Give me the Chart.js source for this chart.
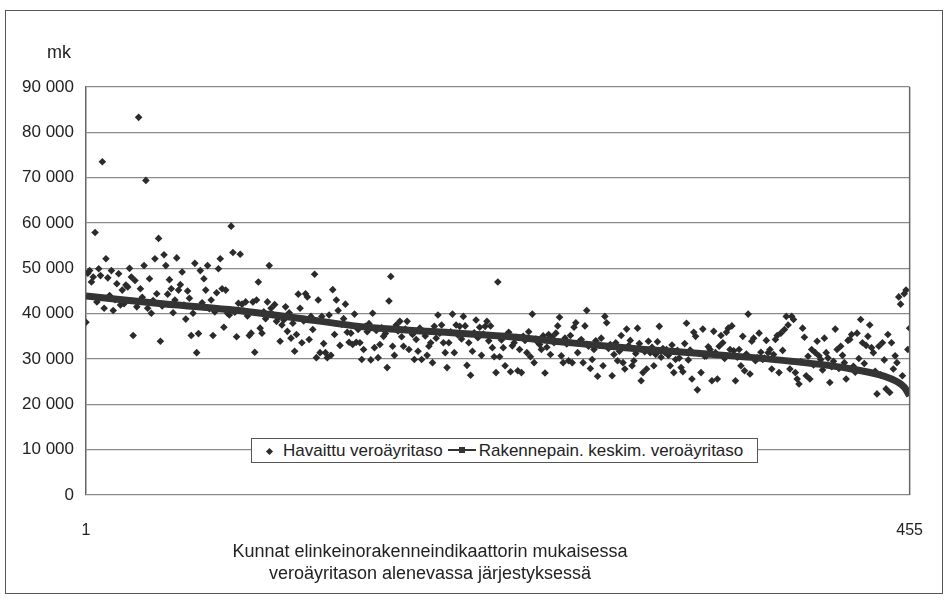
<!DOCTYPE html>
<html lang="fi">
<head>
<meta charset="UTF-8">
<title>Havaittu veroäyritaso</title>
<script src="https://cdn.jsdelivr.net/npm/chart.js"></script>
<style>
    html, body { margin: 0; padding: 0; background: #fff; }
    body { font-family: "Liberation Sans", Arial, sans-serif; color: #222; }
    #wrap { position: relative; width: 949px; height: 606px; }
    #frame { position: absolute; left: 5px; top: 10px; width: 936px; height: 582px; border: 1.5px solid #555; }
    #mk { position: absolute; left: 47px; top: 42px; font-size: 18px; line-height: 20px; }
    #xtitle { position: absolute; left: 130px; width: 600px; top: 540px; text-align: center; font-size: 18px; line-height: 22px; }
    #legend { position: absolute; left: 251px; top: 438px; width: 505px; height: 23px; border: 1px solid #555; background: #fff;
              font-size: 17px; line-height: 23px; white-space: nowrap; }
    .dia { display: inline-block; width: 5px; height: 5px; background: #2b2b2b; transform: rotate(45deg); margin: 0 11px 2px 15px; }
    .viiva { display: inline-block; position: relative; width: 28px; height: 2px; background: #333; margin: 0 3px 5px 5px; }
    .viiva i { position: absolute; left: 11px; top: -2px; width: 6px; height: 6px; background: #333; }
    canvas { position: absolute; left: 0; top: 0; }
</style>
</head>
<body>
<div id="wrap">
    <canvas id="kuvio" width="949" height="606"></canvas>
    <div id="frame"></div>
    <div id="mk">mk</div>
    <div id="legend"><span class="dia"></span>Havaittu veroäyritaso<span class="viiva"><i></i></span>Rakennepain. keskim. veroäyritaso</div>
    <div id="xtitle">Kunnat elinkeinorakenneindikaattorin mukaisessa<br>veroäyritason alenevassa järjestyksessä</div>
</div>

<script>
    // havaittu veroäyritaso, 1000 mk per kunta (järjestysnumero 1..455)
    var havaittu = [
        38.1, 48.9, 49.5, 47.0, 48.1, 57.9, 42.6, 49.9, 48.4, 73.5, 41.2, 52.1, 47.9, 44.0, 49.5, 40.7, 43.1, 46.6, 48.8, 41.9,
        45.2, 42.2, 46.3, 45.9, 50.0, 48.1, 35.2, 47.3, 41.5, 83.3, 45.5, 43.6, 50.6, 69.4, 41.2, 47.7, 40.1, 42.9, 52.1, 44.4,
        56.6, 33.9, 41.7, 53.0, 50.6, 44.3, 47.5, 45.5, 40.2, 43.0, 52.3, 45.2, 46.4, 49.2, 41.9, 38.8, 45.0, 43.4, 35.2, 40.1,
        51.1, 31.4, 35.6, 49.5, 42.4, 47.7, 45.2, 50.6, 41.1, 43.0, 35.2, 40.4, 44.6, 49.9, 52.1, 45.5, 37.0, 45.2, 40.1, 39.7,
        59.3, 53.5, 40.3, 34.9, 42.3, 53.1, 42.1, 40.6, 42.6, 39.5, 35.2, 35.7, 42.6, 31.5, 43.0, 47.0, 36.8, 35.7, 40.4, 38.9,
        42.6, 50.6, 41.2, 39.8, 42.0, 38.3, 39.1, 33.9, 37.5, 38.6, 41.5, 36.1, 40.2, 34.6, 37.9, 31.7, 35.4, 44.3, 41.2, 33.6,
        38.4, 44.4, 43.7, 34.3, 39.4, 36.5, 48.7, 30.3, 43.0, 31.4, 39.4, 33.4, 31.4, 30.3, 39.7, 30.8, 45.3, 35.4, 43.0, 40.7,
        33.0, 37.6, 38.9, 42.1, 35.9, 33.7, 35.7, 33.2, 39.9, 33.7, 36.5, 33.6, 29.9, 32.1, 37.2, 36.0, 37.8, 29.8, 40.1, 32.5,
        36.3, 30.3, 33.2, 36.9, 35.0, 35.6, 28.1, 42.8, 48.2, 32.8, 30.8, 37.5, 36.2, 38.3, 34.9, 32.8, 36.6, 38.3, 32.1, 36.1,
        35.4, 29.9, 34.3, 31.7, 36.8, 29.9, 36.1, 35.1, 30.8, 32.8, 33.6, 29.2, 37.2, 34.6, 39.7, 35.7, 37.5, 33.6, 31.4, 28.1,
        33.6, 36.0, 39.9, 31.4, 37.5, 35.3, 37.2, 34.4, 39.4, 37.3, 28.6, 33.6, 26.4, 31.7, 35.8, 38.6, 34.7, 37.0, 30.8, 35.5,
        37.2, 38.3, 34.0, 37.3, 32.5, 30.5, 27.0, 47.0, 30.5, 34.2, 32.5, 28.5, 35.4, 35.9, 27.2, 32.9, 33.6, 34.8, 27.4, 32.1,
        27.0, 35.0, 34.1, 31.4, 36.0, 30.5, 39.9, 29.2, 34.4, 33.7, 33.2, 32.1, 35.1, 26.9, 32.6, 35.4, 31.0, 34.9, 33.6, 35.7,
        37.3, 39.2, 30.7, 29.2, 34.6, 33.3, 29.6, 35.2, 29.2, 37.0, 38.0, 31.4, 33.9, 34.3, 29.2, 37.3, 40.7, 32.8, 27.9, 29.9,
        32.1, 34.0, 26.2, 33.1, 34.6, 28.5, 39.4, 38.0, 32.3, 33.2, 26.3, 31.0, 33.6, 29.6, 31.7, 35.2, 29.2, 27.8, 36.6, 32.9,
        34.1, 28.5, 29.6, 31.2, 36.8, 33.4, 25.2, 27.0, 31.6, 27.8, 33.9, 31.4, 32.6, 28.5, 31.0, 33.8, 37.2, 30.4, 32.3, 31.5,
        32.1, 30.8, 28.5, 33.1, 27.0, 29.9, 31.9, 30.2, 28.1, 27.2, 33.4, 37.9, 29.8, 32.0, 25.6, 35.9, 35.0, 23.2, 31.2, 27.0,
        36.6, 30.6, 30.7, 32.7, 32.1, 25.2, 36.1, 31.4, 25.6, 32.8, 35.2, 33.6, 30.1, 35.9, 36.8, 32.1, 37.3, 31.8, 25.2, 30.4,
        32.1, 28.5, 35.0, 27.4, 31.1, 39.9, 26.7, 33.9, 34.6, 29.6, 30.3, 35.7, 31.5, 29.9, 30.2, 34.1, 31.4, 32.1, 27.8, 31.0,
        34.3, 35.2, 27.0, 35.7, 31.9, 36.5, 39.4, 37.5, 27.8, 39.4, 38.7, 27.0, 25.6, 24.5, 29.4, 36.8, 34.8, 26.3, 30.6, 25.6,
        32.1, 28.7, 31.4, 33.9, 30.7, 29.9, 27.6, 34.6, 31.4, 30.2, 24.8, 28.3, 29.5, 36.6, 32.1, 27.9, 32.8, 30.8, 29.2, 25.6,
        34.1, 34.3, 35.4, 28.4, 27.1, 35.7, 30.1, 38.7, 33.6, 29.0, 33.0, 35.0, 37.5, 32.5, 31.4, 27.3, 22.3, 32.8, 26.5, 33.6,
        29.8, 23.4, 35.4, 22.6, 33.6, 27.8, 30.7, 29.2, 43.7, 42.1, 26.3, 44.4, 45.2, 32.1, 36.8
    ];

    // rakennepainotettu keskimääräinen veroäyritaso (luettu käyrältä)
    var trendiKunta = [1, 40, 80, 118, 156, 194, 232, 270, 309, 347, 385, 423, 445, 452, 455];
    var trendiArvo = [43.9, 42.3, 40.9, 39.0, 37.0, 36.0, 35.0, 33.5, 32.1, 31.0, 29.7, 27.8, 25.6, 23.8, 21.9];

    var xTikit = [1, 455];
    var yTikit = [0, 10, 20, 30, 40, 50, 60, 70, 80, 90];

    var pisteet = [];
    for (var i = 0; i < havaittu.length; i++) {
        pisteet.push({ x: i + 1, y: havaittu[i] });
    }
    var trendi = [];
    for (var j = 0; j < trendiKunta.length; j++) {
        trendi.push({ x: trendiKunta[j], y: trendiArvo[j] });
    }

    Chart.defaults.font.family = '"Liberation Sans", Arial, sans-serif';
    Chart.defaults.color = '#222';

    // oikea reunaviiva piirtoalueelle
    var reuna = {
        id: 'reuna',
        afterDraw: function (chart) {
            var a = chart.chartArea, ctx = chart.ctx;
            ctx.save();
            ctx.strokeStyle = '#666';
            ctx.lineWidth = 1.5;
            ctx.beginPath();
            ctx.moveTo(a.right, a.top);
            ctx.lineTo(a.right, a.bottom);
            ctx.stroke();
            ctx.restore();
        }
    };

    new Chart(document.getElementById('kuvio'), {
        type: 'scatter',
        data: {
            datasets: [{
                label: 'Havaittu veroäyritaso',
                data: pisteet,
                pointStyle: 'rectRot',
                pointRadius: 3.8,
                pointBackgroundColor: '#2b2b2b',
                pointBorderWidth: 0,
                order: 1
            }, {
                type: 'line',
                label: 'Rakennepain. keskim. veroäyritaso',
                data: trendi,
                borderColor: '#343434',
                borderWidth: 7,
                pointRadius: 0,
                cubicInterpolationMode: 'monotone',
                fill: false,
                order: 0
            }]
        },
        options: {
            responsive: false,
            animation: false,
            layout: { padding: { top: 87, right: 31, left: 0, bottom: 0 } },
            plugins: { legend: { display: false }, tooltip: { enabled: false } },
            scales: {
                x: {
                    type: 'linear',
                    min: 1,
                    max: 455,
                    grid: { display: false, drawTicks: false },
                    border: { display: false },
                    afterBuildTicks: function (s) { s.ticks = xTikit.map(function (v) { return { value: v }; }); },
                    afterFit: function (s) { s.height = 111; },
                    ticks: { font: { size: 16 }, padding: 26, maxRotation: 0, autoSkip: false }
                },
                y: {
                    min: 0,
                    max: 90,
                    afterBuildTicks: function (s) { s.ticks = yTikit.map(function (v) { return { value: v }; }); },
                    afterFit: function (s) { s.width = 86; },
                    grid: { color: '#8a8a8a', lineWidth: 1.3, drawTicks: false },
                    border: { display: true, color: '#666', width: 1.5 },
                    ticks: {
                        font: { size: 17 },
                        padding: 12,
                        callback: function (v) { return v === 0 ? '0' : v + ' 000'; }
                    }
                }
            }
        },
        plugins: [reuna]
    });
</script>
</body>
</html>
